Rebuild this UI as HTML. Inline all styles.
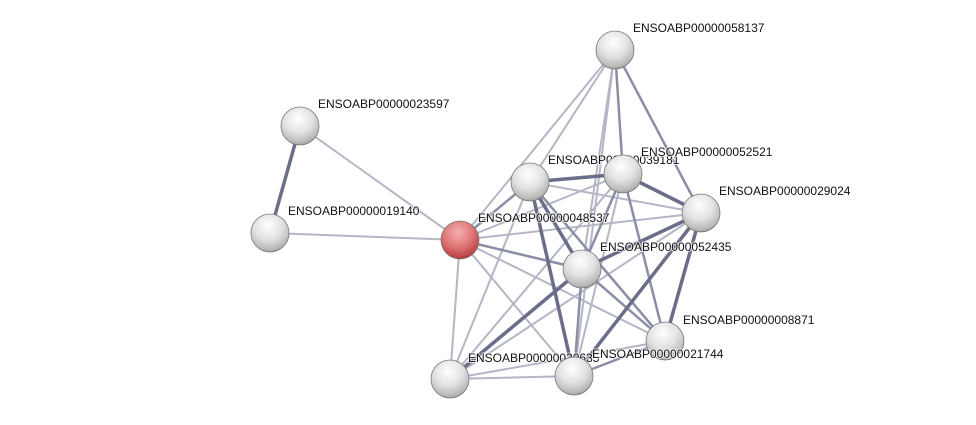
<!DOCTYPE html>
<html><head><meta charset="utf-8"><style>
html,body{margin:0;padding:0;background:#fff;}
svg{display:block;}
text{font-family:"Liberation Sans",sans-serif;font-size:12px;fill:#111;paint-order:stroke;stroke:#fff;stroke-width:2px;stroke-opacity:.7;}
</style></head><body>
<svg width="976" height="425" viewBox="0 0 976 425" xmlns="http://www.w3.org/2000/svg">
<defs>
<radialGradient id="g" cx="0.45" cy="0.3" r="0.75">
<stop offset="0" stop-color="#ffffff"/><stop offset="0.5" stop-color="#e2e2e2"/><stop offset="0.85" stop-color="#b8b8b8"/><stop offset="1" stop-color="#8a8a8a"/>
</radialGradient>
<radialGradient id="r" cx="0.45" cy="0.3" r="0.75">
<stop offset="0" stop-color="#f6b0b0"/><stop offset="0.5" stop-color="#e07878"/><stop offset="0.85" stop-color="#c04848"/><stop offset="1" stop-color="#8a3030"/>
</radialGradient>
</defs>
<g stroke-linecap="round">
<g stroke="#b4b6c6" stroke-width="2">
<line x1="300" y1="126" x2="460" y2="240"/>
<line x1="270" y1="233" x2="460" y2="240"/>
<line x1="615" y1="50" x2="530" y2="182"/>
<line x1="615" y1="50" x2="460" y2="240"/>
<line x1="615" y1="50" x2="582" y2="269"/>
<line x1="615" y1="50" x2="574" y2="376"/>
<line x1="460" y1="240" x2="623" y2="174"/>
<line x1="460" y1="240" x2="701" y2="213"/>
<line x1="460" y1="240" x2="665" y2="341"/>
<line x1="460" y1="240" x2="574" y2="376"/>
<line x1="460" y1="240" x2="450" y2="379"/>
<line x1="530" y1="182" x2="450" y2="379"/>
<line x1="623" y1="174" x2="450" y2="379"/>
<line x1="701" y1="213" x2="450" y2="379"/>
<line x1="450" y1="379" x2="574" y2="376"/>
<line x1="450" y1="379" x2="665" y2="341"/>
<line x1="574" y1="376" x2="623" y2="174"/>
<line x1="530" y1="182" x2="701" y2="213"/>
</g>
<g stroke="#8a8ea6" stroke-width="2.5">
<line x1="615" y1="50" x2="623" y2="174"/>
<line x1="615" y1="50" x2="701" y2="213"/>
<line x1="460" y1="240" x2="530" y2="182"/>
<line x1="460" y1="240" x2="582" y2="269"/>
<line x1="530" y1="182" x2="665" y2="341"/>
<line x1="623" y1="174" x2="665" y2="341"/>
<line x1="582" y1="269" x2="665" y2="341"/>
<line x1="582" y1="269" x2="574" y2="376"/>
<line x1="701" y1="213" x2="574" y2="376"/>
<line x1="623" y1="174" x2="582" y2="269"/>
<line x1="574" y1="376" x2="665" y2="341"/>
</g>
<g stroke="#6a6e88" stroke-width="3.5">
<line x1="300" y1="126" x2="270" y2="233"/>
<line x1="530" y1="182" x2="623" y2="174"/>
<line x1="530" y1="182" x2="582" y2="269"/>
<line x1="530" y1="182" x2="574" y2="376"/>
<line x1="623" y1="174" x2="701" y2="213"/>
<line x1="701" y1="213" x2="582" y2="269"/>
<line x1="701" y1="213" x2="665" y2="341"/>
<line x1="582" y1="269" x2="450" y2="379"/>
<line x1="701" y1="213" x2="574" y2="376"/>
</g>
</g>
<g>
<text x="633" y="32">ENSOABP00000058137</text>
<text x="318" y="108">ENSOABP00000023597</text>
<text x="288" y="215">ENSOABP00000019140</text>
<text x="548" y="164">ENSOABP00000039181</text>
<text x="641" y="156">ENSOABP00000052521</text>
<text x="719" y="195">ENSOABP00000029024</text>
<text x="478" y="222">ENSOABP00000048537</text>
<text x="600" y="251">ENSOABP00000052435</text>
<text x="683" y="324">ENSOABP00000008871</text>
<text x="468" y="362">ENSOABP00000030635</text>
</g>
<g stroke="#7a7a7a" stroke-width="0.8">
<circle cx="615" cy="50" r="19" fill="url(#g)"/>
<circle cx="300" cy="126" r="19" fill="url(#g)"/>
<circle cx="270" cy="233" r="19" fill="url(#g)"/>
<circle cx="530" cy="182" r="19" fill="url(#g)"/>
<circle cx="623" cy="174" r="19" fill="url(#g)"/>
<circle cx="701" cy="213" r="19" fill="url(#g)"/>
<circle cx="460" cy="240" r="19" fill="url(#r)"/>
<circle cx="582" cy="269" r="19" fill="url(#g)"/>
<circle cx="665" cy="341" r="19" fill="url(#g)"/>
<circle cx="450" cy="379" r="19" fill="url(#g)"/>
<circle cx="574" cy="376" r="19" fill="url(#g)"/>
</g>
<text x="592" y="358">ENSOABP00000021744</text>
</svg>
</body></html>
